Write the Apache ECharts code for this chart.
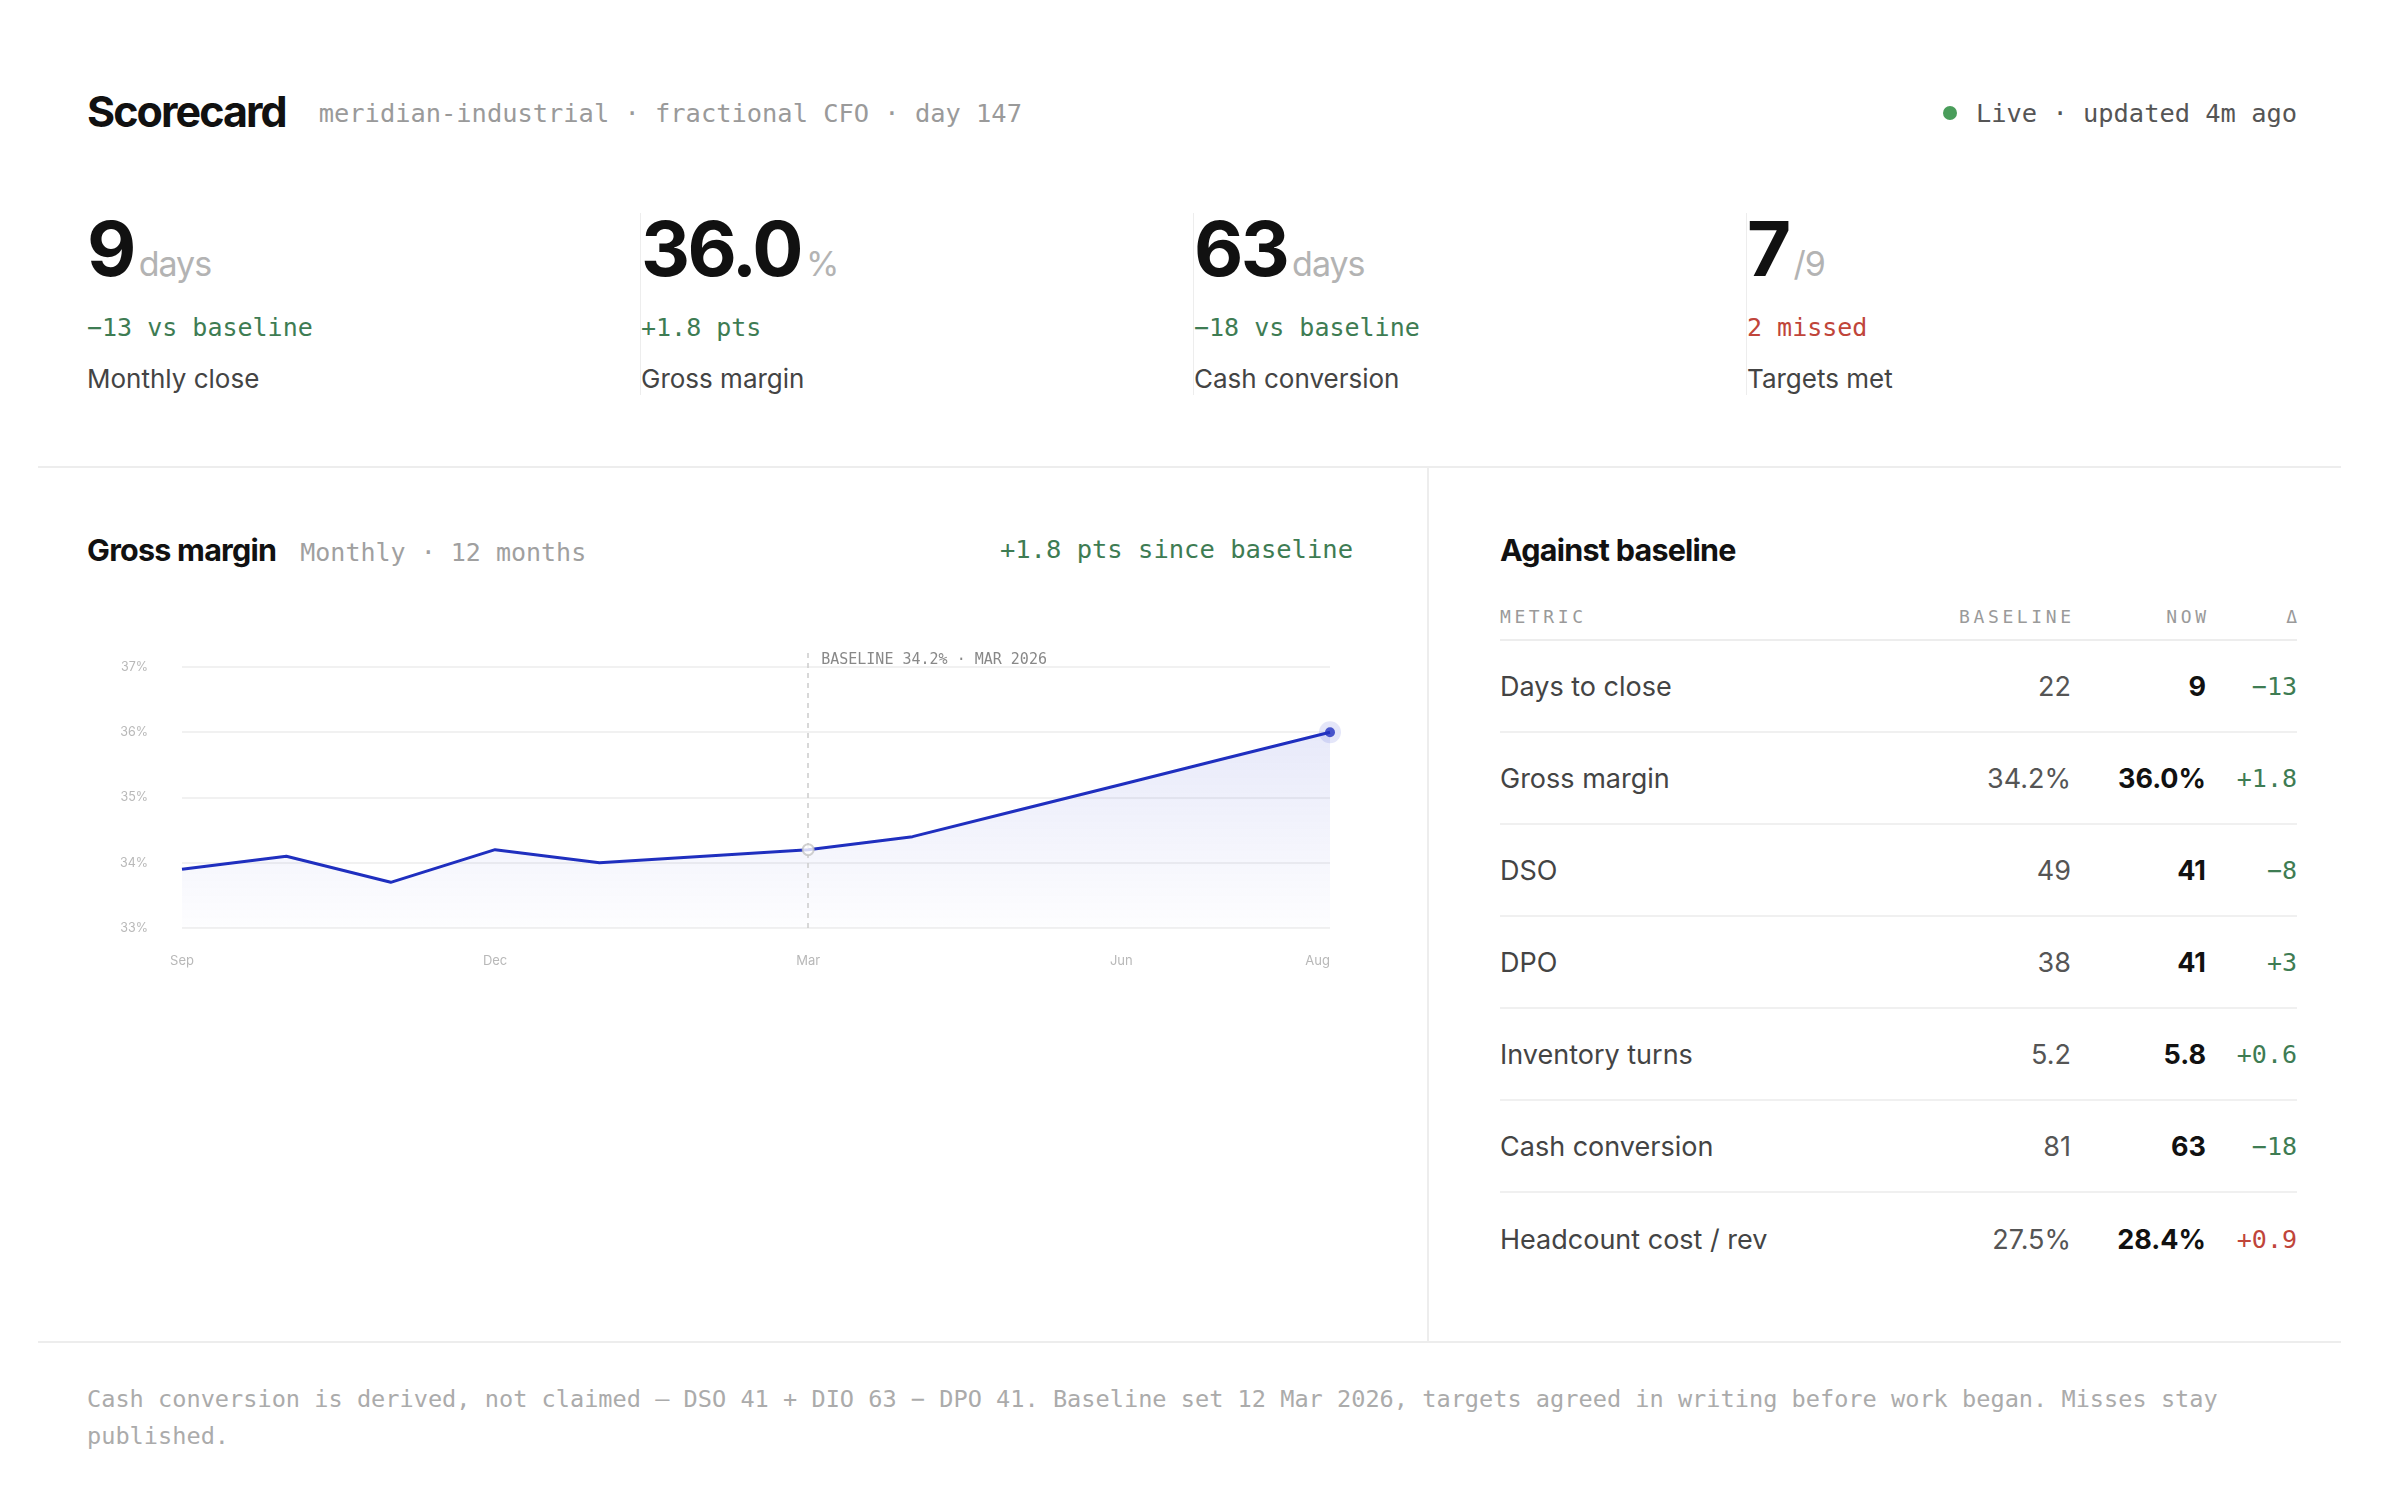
<!DOCTYPE html>
<html>
<head>
<meta charset="utf-8">
<title>Scorecard</title>
<script src="https://cdn.jsdelivr.net/npm/echarts@6.0.0/dist/echarts.min.js"></script>
<style>
  * { box-sizing: border-box; }
  body { margin: 0; background: #fff; font-family: Inter, "Noto Sans", sans-serif; color: #111; }
  .mono { font-family: "DejaVu Sans Mono", "Liberation Mono", monospace; }
  #page { position: relative; width: 2384px; height: 1504px; overflow: hidden; }
  .abs { position: absolute; }
  .good { color: #3e7c53; }
  .bad { color: #c0453a; }

  #head { left: 87px; top: 90px; width: 2210px; display: flex; align-items: baseline; justify-content: space-between; }
  #head h1 { margin: 0; font-size: 43px; line-height: 43px; font-weight: 700; letter-spacing: -0.045em; }
  #head .sub { font-size: 25.4px; color: #9a9a9a; margin-left: 33px; position: relative; top: -5px; }
  #live { font-size: 25.4px; color: #555; display: flex; align-items: baseline; position: relative; top: -5px; }
  #live .dot { width: 14px; height: 14px; border-radius: 50%; background: #4a9d5b; margin-right: 19px; align-self: center; }

  #kpis { left: 87px; top: 213px; display: flex; }
  .kpi { position: relative; width: 553px; height: 182px; }
  .kpi + .kpi { border-left: 1.5px solid #ededed; }
  .kpi .big { position: absolute; left: 0; top: -3px; display: flex; align-items: baseline; white-space: nowrap; }
  .kpi .num { font-size: 76px; line-height: 76px; font-weight: 700; letter-spacing: -0.035em; }
  .kpi .unit { font-size: 34px; color: #b3b3b3; margin-left: 5px; letter-spacing: -0.03em; }
  .kpi .delta { position: absolute; left: 0; top: 102px; font-size: 25px; line-height: 25px; }
  .kpi .lbl { position: absolute; left: 0; top: 153px; font-size: 26px; line-height: 26px; color: #444; }

  .hr { height: 2px; background: #ededed; }
  .vr { width: 2px; background: #ededed; }

  .ptitle { display: flex; align-items: baseline; }
  .ptitle h2 { margin: 0; font-size: 30.5px; line-height: 30px; font-weight: 700; letter-spacing: -0.025em; }
  .ptitle .sub { font-size: 25px; color: #a0a0a0; margin-left: 24px; }

  #chart { left: 87px; top: 600px; width: 1300px; height: 400px; }

  #table { left: 1500px; top: 608px; width: 797px; }
  .trow { display: grid; grid-template-columns: 1fr 200px 135px 91px; align-items: center; }
  .thead { height: 33px; border-bottom: 2px solid #ededed; align-items: start; }
  .thead div { font-size: 18px; line-height: 18px; letter-spacing: 0.2em; color: #9a9a9a; }
  .thead div + div { text-align: right; margin-right: -0.2em; }
  .tbody .trow { height: 92px; border-bottom: 2px solid #f0f0f0; }
  .tbody .trow:last-child { border-bottom: none; }
  .tbody .name { font-size: 27px; color: #444; }
  .tbody .base { font-size: 27px; color: #555; text-align: right; }
  .tbody .now { font-size: 27px; font-weight: 700; color: #111; text-align: right; }
  .tbody .dlt { font-size: 25px; text-align: right; }

  #foot { left: 87px; top: 1381px; width: 2210px; font-size: 23.6px; line-height: 36.5px; color: #ababab; }
</style>
</head>
<body>
<div id="page">
  <div id="head" class="abs">
    <div style="display:flex;align-items:baseline">
      <h1>Scorecard</h1>
      <span class="sub mono">meridian-industrial · fractional CFO · day 147</span>
    </div>
    <div id="live" class="mono"><span class="dot"></span>Live · updated 4m ago</div>
  </div>

  <div id="kpis" class="abs"></div>

  <div class="abs hr" style="left:38px;top:466px;width:2303px"></div>
  <div class="abs vr" style="left:1427px;top:467px;height:875px"></div>
  <div class="abs hr" style="left:38px;top:1341px;width:2303px"></div>

  <div class="abs ptitle" style="left:87px;top:535px">
    <h2>Gross margin</h2><span class="sub mono">Monthly · 12 months</span>
  </div>
  <div class="abs mono good" style="left:853px;top:537px;width:500px;text-align:right;font-size:25.5px;line-height:25px">+1.8 pts since baseline</div>

  <div id="chart" class="abs"></div>

  <div class="abs ptitle" style="left:1500px;top:535px">
    <h2>Against baseline</h2>
  </div>
  <div id="table" class="abs">
    <div class="trow thead mono"><div>METRIC</div><div>BASELINE</div><div>NOW</div><div>Δ</div></div>
    <div class="tbody"></div>
  </div>

  <div id="foot" class="abs mono">Cash conversion is derived, not claimed — DSO 41 + DIO 63 − DPO 41. Baseline set 12 Mar 2026, targets agreed in writing before work began. Misses stay published.</div>
</div>

<script>
// headline numbers
const kpiValues = ['9', '36.0', '63', '7'];
const kpiUnits = ['days', '%', 'days', '/9'];
const kpiDeltas = ['−13 vs baseline', '+1.8 pts', '−18 vs baseline', '2 missed'];
const kpiTones = ['good', 'good', 'good', 'bad'];
const kpiLabels = ['Monthly close', 'Gross margin', 'Cash conversion', 'Targets met'];

// gross margin, monthly %
const months = ['Sep', 'Oct', 'Nov', 'Dec', 'Jan', 'Feb', 'Mar', 'Apr', 'May', 'Jun', 'Jul', 'Aug'];
const grossMargin = [33.9, 34.1, 33.7, 34.2, 34.0, 34.1, 34.2, 34.4, 34.8, 35.2, 35.6, 36.0];
const yTicks = [33, 34, 35, 36, 37];
const baselineMonth = 'Mar';
const baselineValue = 34.2;
const baselineLabel = 'BASELINE 34.2% · MAR 2026';

// against baseline table
const metricNames = ['Days to close', 'Gross margin', 'DSO', 'DPO', 'Inventory turns', 'Cash conversion', 'Headcount cost / rev'];
const baselineVals = ['22', '34.2%', '49', '38', '5.2', '81', '27.5%'];
const nowVals = ['9', '36.0%', '41', '41', '5.8', '63', '28.4%'];
const deltaVals = ['−13', '+1.8', '−8', '+3', '+0.6', '−18', '+0.9'];
const deltaTones = ['good', 'good', 'good', 'good', 'good', 'good', 'bad'];

const kpis = document.getElementById('kpis');
kpiValues.forEach((v, i) => {
    const el = document.createElement('div');
    el.className = 'kpi';
    el.innerHTML =
        '<div class="big"><span class="num">' + v + '</span><span class="unit">' + kpiUnits[i] + '</span></div>' +
        '<div class="delta mono ' + kpiTones[i] + '">' + kpiDeltas[i] + '</div>' +
        '<div class="lbl">' + kpiLabels[i] + '</div>';
    kpis.appendChild(el);
});

const tbody = document.querySelector('#table .tbody');
metricNames.forEach((name, i) => {
    const row = document.createElement('div');
    row.className = 'trow';
    row.innerHTML =
        '<div class="name">' + name + '</div>' +
        '<div class="base">' + baselineVals[i] + '</div>' +
        '<div class="now">' + nowVals[i] + '</div>' +
        '<div class="dlt mono ' + deltaTones[i] + '">' + deltaVals[i] + '</div>';
    tbody.appendChild(row);
});

const lineColor = '#1f2fbf';
const last = months.length - 1;
const myChart = echarts.init(document.getElementById('chart'));

const option = {
    animation: false,
    textStyle: { fontFamily: 'Inter' },
    grid: { left: 95, right: 57, top: 50, bottom: 72 },
    xAxis: {
        type: 'category',
        data: months,
        boundaryGap: false,
        axisLine: { show: false },
        axisTick: { show: false },
        splitLine: { show: false },
        axisLabel: {
            color: '#b8b8b8',
            fontSize: 13,
            margin: 27,
            interval: (i) => i % 3 === 0 || i === last,
            alignMaxLabel: 'right',
        },
    },
    yAxis: {
        type: 'value',
        min: yTicks[0],
        // a little headroom above the top tick for the baseline marker
        max: yTicks[yTicks.length - 1] + 0.26,
        interval: 1,
        axisLine: { show: false },
        axisTick: { show: false },
        axisLabel: {
            color: '#b8b8b8',
            fontSize: 12.5,
            margin: 34,
            showMaxLabel: false,
            formatter: (v) => v + '%',
        },
        splitLine: {
            lineStyle: {
                color: yTicks.map(() => '#ededed').concat(['rgba(0,0,0,0)']),
                width: 1.5,
            },
        },
    },
    series: [
        {
            type: 'line',
            data: grossMargin,
            symbol: 'none',
            lineStyle: { color: lineColor, width: 3 },
            areaStyle: {
                color: new echarts.graphic.LinearGradient(0, 0, 0, 1, [
                    { offset: 0, color: 'rgba(45,60,205,0.16)' },
                    { offset: 1, color: 'rgba(45,60,205,0.01)' },
                ]),
            },
            markLine: {
                silent: true,
                symbol: 'none',
                lineStyle: { color: '#cccccc', type: [5, 5], width: 1.5 },
                label: {
                    position: 'end',
                    align: 'left',
                    verticalAlign: 'top',
                    distance: 0,
                    padding: [3, 0, 0, 13],
                    fontFamily: 'DejaVu Sans Mono',
                    fontSize: 15,
                    color: '#888',
                    formatter: baselineLabel,
                },
                data: [{ xAxis: baselineMonth }],
            },
        },
        {
            type: 'scatter',
            data: [[baselineMonth, baselineValue]],
            symbolSize: 11,
            itemStyle: { color: '#fff', borderColor: '#c4c4c4', borderWidth: 2 },
            z: 5,
        },
        {
            type: 'scatter',
            data: [[months[last], grossMargin[last]]],
            symbolSize: 22,
            itemStyle: { color: 'rgba(45,60,210,0.16)' },
            z: 5,
        },
        {
            type: 'scatter',
            data: [[months[last], grossMargin[last]]],
            symbolSize: 10,
            itemStyle: { color: lineColor },
            z: 6,
        },
    ],
};

myChart.setOption(option);
window.addEventListener('resize', () => myChart.resize());
</script>
</body>
</html>
